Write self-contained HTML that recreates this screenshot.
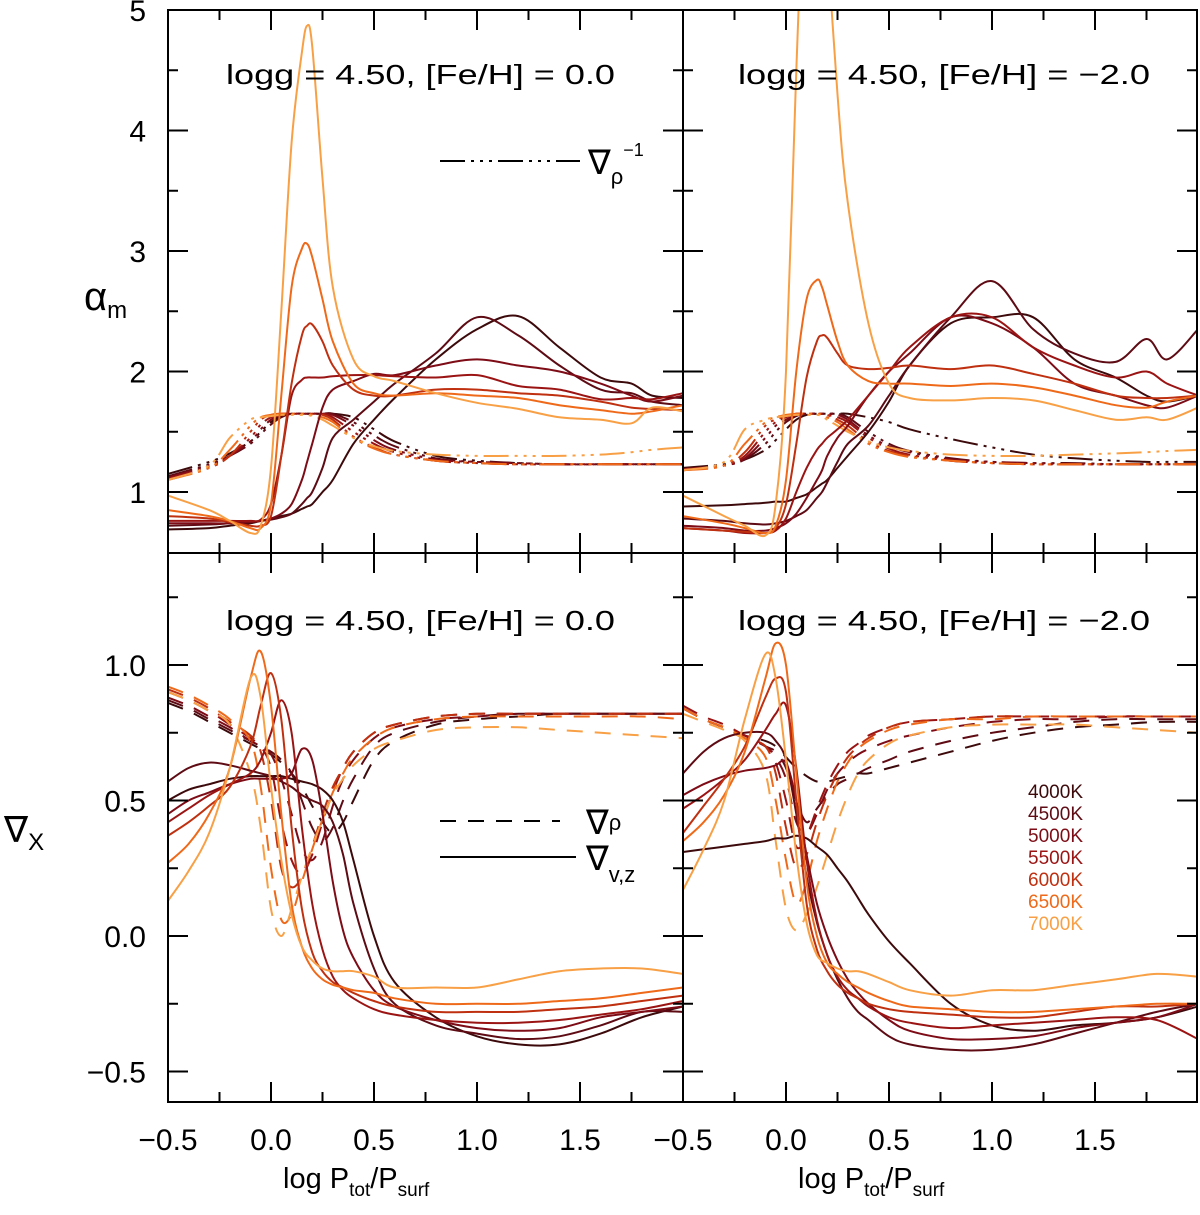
<!DOCTYPE html>
<html><head><meta charset="utf-8">
<style>
html,body{margin:0;padding:0;background:#fff;}
svg{display:block;font-family:"Liberation Sans","DejaVu Sans",sans-serif;}
</style></head>
<body>
<svg id="chart" width="1200" height="1215" viewBox="0 0 1200 1215" xmlns="http://www.w3.org/2000/svg">
<defs>
<clipPath id="cTL"><rect x="168" y="10" width="515" height="543"/></clipPath>
<clipPath id="cTR"><rect x="683" y="10" width="514" height="543"/></clipPath>
<clipPath id="cBL"><rect x="168" y="553" width="515" height="549"/></clipPath>
<clipPath id="cBR"><rect x="683" y="553" width="514" height="549"/></clipPath>
</defs>
<g id="curves"></g>
<g id="axes"></g>
<g id="labels" fill="#000">
<text x="226" y="84" font-size="28" textLength="389" lengthAdjust="spacingAndGlyphs">logg = 4.50, [Fe/H] = 0.0</text>
<text x="738" y="84" font-size="28" textLength="412" lengthAdjust="spacingAndGlyphs">logg = 4.50, [Fe/H] = −2.0</text>
<text x="226" y="630" font-size="28" textLength="389" lengthAdjust="spacingAndGlyphs">logg = 4.50, [Fe/H] = 0.0</text>
<text x="738" y="630" font-size="28" textLength="412" lengthAdjust="spacingAndGlyphs">logg = 4.50, [Fe/H] = −2.0</text>
<text x="84" y="310" font-size="40">α<tspan font-size="24" dy="8">m</tspan></text>
<text x="4" y="842" font-size="36">∇<tspan font-size="24" dy="8">X</tspan></text>
<text x="283" y="1188" font-size="29">log P<tspan font-size="19" dy="8">tot</tspan><tspan dy="-8">/P</tspan><tspan font-size="19" dy="8">surf</tspan></text>
<text x="798" y="1188" font-size="29">log P<tspan font-size="19" dy="8">tot</tspan><tspan dy="-8">/P</tspan><tspan font-size="19" dy="8">surf</tspan></text>
<g>
<line x1="440" y1="161" x2="580" y2="161" stroke="#000" stroke-width="2" stroke-dasharray="25 6 3 6 3 6 3 6"/>
<text x="588" y="174" font-size="34">∇<tspan font-size="22" dy="10">ρ</tspan><tspan font-size="18" dy="-28">−1</tspan></text>
</g>
<g>
<line x1="440" y1="821" x2="560" y2="821" stroke="#000" stroke-width="2" stroke-dasharray="16 12"/>
<text x="586" y="834" font-size="34">∇<tspan font-size="22" dy="-4">ρ</tspan></text>
<line x1="440" y1="857" x2="576" y2="857" stroke="#000" stroke-width="2"/>
<text x="586" y="870" font-size="34">∇<tspan font-size="22" dy="12">v,z</tspan></text>
</g>
<g id="legend-temps" font-size="19" text-anchor="end"></g>
</g>
<rect x="168" y="10" width="1029" height="1092" fill="none" stroke="#000" stroke-width="2"/>
<line x1="683" y1="10" x2="683" y2="1102" stroke="#000" stroke-width="2"/>
<line x1="168" y1="553" x2="1197" y2="553" stroke="#000" stroke-width="2"/>
</svg>
<script>
const temps = ["4000K","4500K","5000K","5500K","6000K","6500K","7000K"];
const colors = ["#3d0a0c","#5e0b14","#7d0c16","#9b1414","#bf3010","#ee6a1a","#f8a046"];

const xTop = [-0.5,-0.3,-0.2,-0.1,-0.05,0,0.05,0.1,0.15,0.175,0.2,0.25,0.3,0.4,0.5,0.6,0.8,1.0,1.2,1.4,1.6,1.75,1.85,2.0];
const xBot = [-0.5,-0.4,-0.3,-0.2,-0.1,-0.05,0,0.05,0.1,0.15,0.2,0.25,0.3,0.35,0.4,0.5,0.6,0.8,1.0,1.2,1.4,1.6,1.8,2.0];

const alphaL = [
 [0.69,0.70,0.72,0.74,0.76,0.78,0.80,0.82,0.86,0.88,0.90,1.0,1.1,1.4,1.6,1.78,2.1,2.35,2.46,2.2,1.95,1.9,1.8,1.78],
 [0.72,0.73,0.74,0.75,0.76,0.77,0.79,0.82,0.9,0.95,1.0,1.2,1.45,1.6,1.75,1.9,2.15,2.45,2.3,2.05,1.85,1.82,1.75,1.72],
 [0.74,0.74,0.74,0.75,0.76,0.78,0.82,0.9,1.1,1.25,1.4,1.7,1.85,1.92,1.98,1.97,2.05,2.1,2.05,2.0,1.9,1.8,1.75,1.8],
 [0.76,0.76,0.76,0.76,0.77,0.9,1.3,1.8,1.93,1.95,1.95,1.95,1.96,1.97,1.97,1.96,1.95,1.97,1.88,1.85,1.77,1.78,1.77,1.82],
 [0.80,0.78,0.75,0.72,0.72,0.8,1.3,1.9,2.3,2.38,2.39,2.25,2.05,1.85,1.8,1.8,1.85,1.85,1.82,1.8,1.75,1.7,1.69,1.68],
 [0.85,0.80,0.76,0.70,0.70,0.9,1.8,2.7,3.02,3.06,2.95,2.6,2.25,1.9,1.82,1.8,1.82,1.8,1.78,1.72,1.68,1.65,1.67,1.72],
 [0.97,0.85,0.76,0.66,0.72,1.2,2.5,3.9,4.65,4.87,4.7,3.6,2.7,2.1,1.96,1.92,1.82,1.74,1.69,1.62,1.6,1.57,1.7,1.67]
];
const alphaR = [
 [0.88,0.89,0.90,0.91,0.92,0.92,0.95,0.98,1.04,1.07,1.1,1.2,1.3,1.5,1.75,2.05,2.4,2.45,2.45,2.1,1.95,1.8,1.75,1.8],
 [0.78,0.76,0.74,0.73,0.74,0.76,0.8,0.85,0.95,1.0,1.08,1.25,1.4,1.55,1.8,2.05,2.45,2.75,2.35,2.15,2.08,2.27,2.1,2.35],
 [0.72,0.70,0.68,0.68,0.70,0.74,0.82,0.95,1.1,1.18,1.3,1.45,1.55,1.8,2.0,2.15,2.45,2.4,2.2,1.9,1.8,1.72,1.7,1.8],
 [0.70,0.68,0.66,0.66,0.68,0.78,1.0,1.2,1.35,1.4,1.45,1.52,1.6,1.8,2.0,2.2,2.45,2.45,2.2,2.05,1.95,2.0,1.9,1.8],
 [0.70,0.68,0.67,0.66,0.70,0.9,1.4,1.95,2.25,2.3,2.28,2.15,2.05,2.02,2.03,2.05,2.02,2.05,1.98,1.9,1.8,1.78,1.78,1.8],
 [0.80,0.74,0.70,0.66,0.72,1.1,2.0,2.6,2.76,2.7,2.55,2.25,2.05,1.92,1.9,1.9,1.88,1.9,1.87,1.8,1.72,1.7,1.75,1.8],
 [0.97,0.80,0.72,0.64,0.9,2.0,4.5,6.5,6.8,6.5,5.6,4.3,3.4,2.4,1.9,1.78,1.76,1.78,1.76,1.68,1.6,1.62,1.6,1.7]
];
const invRhoL = [
 [1.15,1.25,1.32,1.42,1.5,1.58,1.63,1.65,1.65,1.65,1.65,1.65,1.65,1.62,1.52,1.42,1.3,1.26,1.24,1.23,1.23,1.23,1.23,1.23],
 [1.13,1.23,1.3,1.4,1.48,1.56,1.62,1.65,1.65,1.65,1.65,1.65,1.65,1.58,1.47,1.38,1.28,1.25,1.24,1.23,1.23,1.23,1.23,1.23],
 [1.12,1.22,1.3,1.42,1.52,1.6,1.64,1.65,1.65,1.65,1.65,1.65,1.64,1.55,1.43,1.35,1.27,1.25,1.24,1.23,1.23,1.23,1.23,1.23],
 [1.11,1.21,1.3,1.45,1.56,1.62,1.65,1.65,1.65,1.65,1.65,1.65,1.62,1.5,1.4,1.33,1.26,1.24,1.23,1.23,1.23,1.23,1.23,1.23],
 [1.1,1.2,1.3,1.5,1.6,1.64,1.65,1.65,1.65,1.65,1.65,1.64,1.6,1.46,1.37,1.31,1.26,1.24,1.23,1.23,1.23,1.23,1.23,1.23],
 [1.1,1.2,1.35,1.55,1.62,1.64,1.65,1.65,1.65,1.65,1.64,1.62,1.58,1.45,1.36,1.31,1.26,1.24,1.23,1.23,1.23,1.23,1.23,1.23],
 [1.1,1.22,1.45,1.6,1.62,1.63,1.64,1.64,1.64,1.64,1.63,1.6,1.55,1.45,1.38,1.34,1.31,1.3,1.3,1.3,1.31,1.33,1.35,1.37]
];
const invRhoR = [
 [1.2,1.23,1.27,1.35,1.43,1.52,1.6,1.64,1.65,1.65,1.65,1.65,1.65,1.62,1.58,1.52,1.44,1.37,1.31,1.28,1.26,1.25,1.25,1.25],
 [1.19,1.22,1.27,1.4,1.5,1.58,1.63,1.65,1.65,1.65,1.65,1.65,1.62,1.5,1.4,1.34,1.28,1.25,1.24,1.24,1.23,1.23,1.23,1.23],
 [1.19,1.22,1.28,1.45,1.55,1.6,1.64,1.65,1.65,1.65,1.65,1.64,1.6,1.47,1.38,1.33,1.27,1.25,1.24,1.23,1.23,1.23,1.23,1.23],
 [1.19,1.22,1.3,1.5,1.58,1.62,1.65,1.65,1.65,1.65,1.64,1.62,1.58,1.45,1.36,1.31,1.26,1.24,1.23,1.23,1.23,1.23,1.23,1.23],
 [1.18,1.22,1.33,1.55,1.6,1.63,1.65,1.65,1.65,1.65,1.64,1.6,1.55,1.42,1.34,1.3,1.26,1.24,1.23,1.23,1.23,1.23,1.23,1.23],
 [1.18,1.22,1.4,1.58,1.62,1.64,1.65,1.65,1.65,1.64,1.62,1.58,1.52,1.4,1.33,1.29,1.26,1.24,1.23,1.23,1.23,1.23,1.23,1.23],
 [1.18,1.25,1.52,1.6,1.62,1.63,1.64,1.64,1.64,1.63,1.6,1.55,1.5,1.42,1.37,1.34,1.31,1.3,1.3,1.31,1.32,1.33,1.34,1.35]
];
const gradVzL = [
 [0.5,0.54,0.56,0.58,0.59,0.59,0.59,0.59,0.58,0.57,0.56,0.54,0.5,0.42,0.28,0.0,-0.17,-0.3,-0.37,-0.4,-0.4,-0.36,-0.3,-0.26],
 [0.57,0.62,0.64,0.63,0.61,0.6,0.59,0.57,0.55,0.52,0.5,0.48,0.42,0.3,0.12,-0.12,-0.25,-0.33,-0.36,-0.38,-0.37,-0.33,-0.28,-0.28],
 [0.45,0.5,0.53,0.56,0.58,0.58,0.58,0.58,0.6,0.69,0.65,0.45,0.2,0.02,-0.08,-0.2,-0.26,-0.31,-0.34,-0.35,-0.34,-0.3,-0.28,-0.26],
 [0.42,0.47,0.52,0.56,0.6,0.65,0.75,0.87,0.75,0.4,0.12,-0.05,-0.15,-0.2,-0.23,-0.27,-0.29,-0.31,-0.32,-0.32,-0.31,-0.29,-0.27,-0.24],
 [0.37,0.42,0.48,0.55,0.7,0.85,0.97,0.8,0.4,0.1,-0.06,-0.13,-0.17,-0.19,-0.21,-0.24,-0.26,-0.28,-0.28,-0.28,-0.27,-0.26,-0.24,-0.22],
 [0.27,0.34,0.45,0.62,0.95,1.05,0.85,0.45,0.12,-0.04,-0.12,-0.16,-0.18,-0.19,-0.2,-0.21,-0.23,-0.25,-0.25,-0.25,-0.24,-0.23,-0.21,-0.19],
 [0.13,0.24,0.38,0.62,0.95,0.88,0.55,0.28,0.08,-0.04,-0.09,-0.12,-0.13,-0.13,-0.13,-0.15,-0.19,-0.19,-0.19,-0.16,-0.13,-0.12,-0.12,-0.14]
];
const gradVzR = [
 [0.31,0.32,0.33,0.34,0.35,0.36,0.36,0.37,0.36,0.33,0.3,0.25,0.2,0.14,0.08,-0.02,-0.1,-0.25,-0.33,-0.35,-0.33,-0.32,-0.3,-0.26],
 [0.6,0.68,0.73,0.75,0.75,0.72,0.65,0.45,0.22,0.05,-0.07,-0.16,-0.23,-0.28,-0.31,-0.37,-0.4,-0.42,-0.42,-0.4,-0.36,-0.32,-0.28,-0.25],
 [0.52,0.56,0.59,0.61,0.62,0.63,0.64,0.5,0.3,0.12,0.0,-0.09,-0.16,-0.21,-0.25,-0.31,-0.35,-0.38,-0.38,-0.37,-0.34,-0.32,-0.3,-0.25],
 [0.47,0.52,0.58,0.65,0.76,0.82,0.85,0.62,0.28,0.06,-0.07,-0.15,-0.2,-0.23,-0.26,-0.3,-0.32,-0.34,-0.33,-0.32,-0.31,-0.3,-0.31,-0.38],
 [0.38,0.48,0.58,0.7,0.88,0.95,0.9,0.5,0.12,-0.05,-0.13,-0.18,-0.21,-0.23,-0.25,-0.27,-0.28,-0.29,-0.3,-0.3,-0.28,-0.26,-0.26,-0.25],
 [0.35,0.42,0.52,0.68,0.95,1.08,1.0,0.6,0.2,0.0,-0.1,-0.14,-0.17,-0.19,-0.21,-0.24,-0.26,-0.27,-0.28,-0.28,-0.27,-0.26,-0.25,-0.25],
 [0.17,0.32,0.5,0.8,1.04,0.95,0.65,0.3,0.05,-0.07,-0.1,-0.12,-0.13,-0.13,-0.14,-0.17,-0.2,-0.22,-0.2,-0.2,-0.18,-0.16,-0.14,-0.15]
];
const gradRhoL = [
 [0.86,0.83,0.79,0.75,0.71,0.69,0.67,0.64,0.6,0.55,0.48,0.42,0.38,0.42,0.5,0.65,0.72,0.78,0.8,0.81,0.82,0.82,0.82,0.82],
 [0.87,0.84,0.8,0.76,0.72,0.7,0.68,0.65,0.6,0.5,0.4,0.35,0.4,0.5,0.58,0.7,0.75,0.79,0.81,0.82,0.82,0.82,0.82,0.82],
 [0.88,0.85,0.81,0.77,0.72,0.7,0.67,0.58,0.45,0.32,0.28,0.35,0.48,0.58,0.65,0.73,0.77,0.8,0.81,0.82,0.82,0.82,0.82,0.82],
 [0.9,0.87,0.83,0.78,0.73,0.7,0.62,0.42,0.28,0.23,0.3,0.42,0.53,0.62,0.68,0.75,0.78,0.81,0.82,0.82,0.82,0.82,0.82,0.82],
 [0.91,0.88,0.84,0.79,0.74,0.68,0.5,0.25,0.18,0.22,0.33,0.45,0.55,0.62,0.68,0.75,0.78,0.81,0.82,0.82,0.82,0.82,0.82,0.82],
 [0.92,0.89,0.85,0.8,0.72,0.55,0.25,0.06,0.08,0.2,0.32,0.43,0.53,0.6,0.66,0.73,0.77,0.8,0.81,0.81,0.81,0.81,0.81,0.8],
 [0.9,0.87,0.83,0.78,0.6,0.4,0.1,0.0,0.1,0.22,0.33,0.43,0.52,0.58,0.63,0.69,0.72,0.76,0.77,0.77,0.76,0.75,0.74,0.73]
];
const gradRhoR = [
 [0.84,0.8,0.77,0.74,0.72,0.7,0.66,0.62,0.59,0.57,0.57,0.58,0.59,0.6,0.6,0.62,0.64,0.68,0.72,0.75,0.77,0.78,0.79,0.79],
 [0.84,0.8,0.77,0.74,0.7,0.68,0.62,0.5,0.42,0.47,0.52,0.56,0.58,0.6,0.62,0.65,0.68,0.72,0.75,0.77,0.79,0.8,0.8,0.8],
 [0.84,0.8,0.77,0.74,0.7,0.66,0.58,0.42,0.38,0.45,0.54,0.6,0.64,0.67,0.69,0.72,0.74,0.77,0.79,0.8,0.8,0.81,0.81,0.81],
 [0.85,0.81,0.78,0.74,0.7,0.64,0.5,0.33,0.37,0.47,0.56,0.63,0.68,0.71,0.74,0.77,0.79,0.8,0.81,0.81,0.81,0.81,0.81,0.81],
 [0.84,0.8,0.77,0.73,0.7,0.6,0.4,0.25,0.3,0.42,0.52,0.6,0.66,0.7,0.73,0.77,0.79,0.8,0.81,0.81,0.81,0.81,0.81,0.81],
 [0.84,0.8,0.77,0.73,0.66,0.5,0.28,0.12,0.2,0.35,0.47,0.57,0.64,0.69,0.72,0.76,0.78,0.8,0.8,0.81,0.81,0.81,0.81,0.81],
 [0.82,0.79,0.76,0.72,0.6,0.35,0.1,0.02,0.08,0.18,0.3,0.42,0.52,0.6,0.65,0.71,0.74,0.77,0.78,0.78,0.78,0.77,0.76,0.75]
];
const xTickLabelsL = ["−0.5","0.0","0.5","1.0","1.5"];
const xTickLabelsR = ["−0.5","0.0","0.5","1.0","1.5"];
const xTickValues = [-0.5,0,0.5,1.0,1.5];
const yTickTop = [1,2,3,4,5];
const yTickTopLabels = ["1","2","3","4","5"];
const yTickBot = [-0.5,0,0.5,1.0];
const yTickBotLabels = ["−0.5","0.0","0.5","1.0"];

const NS = "http://www.w3.org/2000/svg";
function xL(v){return 168 + 206*(v+0.5);}
function xR(v){return 683 + 206*(v+0.5);}
function yT(v){return 492 - 120.5*(v-1);}
function yB(v){return 936 - 271*v;}

function smoothPath(pts){
  let d = "M" + pts[0][0].toFixed(1) + "," + pts[0][1].toFixed(1);
  for(let i=0;i<pts.length-1;i++){
    const p0 = pts[Math.max(0,i-1)], p1 = pts[i], p2 = pts[i+1], p3 = pts[Math.min(pts.length-1,i+2)];
    const c1x = p1[0]+(p2[0]-p0[0])/6, c1y = p1[1]+(p2[1]-p0[1])/6;
    const c2x = p2[0]-(p3[0]-p1[0])/6, c2y = p2[1]-(p3[1]-p1[1])/6;
    d += "C"+c1x.toFixed(1)+","+c1y.toFixed(1)+" "+c2x.toFixed(1)+","+c2y.toFixed(1)+" "+p2[0].toFixed(1)+","+p2[1].toFixed(1);
  }
  return d;
}

const curves = document.getElementById("curves");
function drawSet(series, xs, fx, fy, clip, dash, name){
  const g = document.createElementNS(NS,"g");
  g.setAttribute("clip-path","url(#"+clip+")");
  
  
  series.forEach((vals, k)=>{
    const pts = xs.map((x,i)=>[fx(x), fy(vals[i])]);
    const p = document.createElementNS(NS,"path");
    p.setAttribute("d", smoothPath(pts));
    p.setAttribute("fill","none");
    p.setAttribute("stroke", colors[k]);
    p.setAttribute("stroke-width","2");
    if(dash) p.setAttribute("stroke-dasharray", dash);
    
    
    g.appendChild(p);
  });
  curves.appendChild(g);
}
const DD = "25 6 3 6 3 6 3 6";
const DS = "16 12";
drawSet(invRhoL, xTop, xL, yT, "cTL", DD, "inv-grad-rho-feh0");
drawSet(alphaL, xTop, xL, yT, "cTL", null, "alpha-m-feh0");
drawSet(invRhoR, xTop, xR, yT, "cTR", DD, "inv-grad-rho-feh-2");
drawSet(alphaR, xTop, xR, yT, "cTR", null, "alpha-m-feh-2");
drawSet(gradRhoL, xBot, xL, yB, "cBL", DS, "grad-rho-feh0");
drawSet(gradVzL, xBot, xL, yB, "cBL", null, "grad-vz-feh0");
drawSet(gradRhoR, xBot, xR, yB, "cBR", DS, "grad-rho-feh-2");
drawSet(gradVzR, xBot, xR, yB, "cBR", null, "grad-vz-feh-2");

const axes = document.getElementById("axes");
let tk = "";
function ln(x1,y1,x2,y2){tk += "M"+x1.toFixed(1)+","+y1.toFixed(1)+"L"+x2.toFixed(1)+","+y2.toFixed(1);}
[xL,xR].forEach(fx=>{
  for(let v=-0.25; v<2.0; v+=0.25){
    const len = (Math.abs(v*2 - Math.round(v*2))<1e-6) ? 20 : 10;
    const x = fx(v);
    [10,553,1102].forEach(yy=>{
      if(yy!==1102) ln(x,yy,x,yy+len);
      if(yy!==10) ln(x,yy,x,yy-len);
    });
  }
});
[[168,1],[683,-1],[683,1],[1197,-1]].forEach(([x0,dir])=>{
  for(let v=1.0; v<=4.5+1e-6; v+=0.5){
    const len = (Math.abs(v-Math.round(v))<1e-6)?20:10;
    ln(x0,yT(v),x0+dir*len,yT(v));
  }
  for(let v=-0.5; v<=1.25+1e-6; v+=0.25){
    const len = (Math.abs(v*2-Math.round(v*2))<1e-6)?20:10;
    ln(x0,yB(v),x0+dir*len,yB(v));
  }
});
const tp = document.createElementNS(NS,"path");
tp.setAttribute("d", tk);
tp.setAttribute("stroke","#000");
tp.setAttribute("stroke-width","2");


axes.appendChild(tp);

function addText(x,y,s,anchor,size,name){
  const t = document.createElementNS(NS,"text");
  t.setAttribute("x",x); t.setAttribute("y",y);
  t.setAttribute("text-anchor",anchor);
  t.setAttribute("font-size",size);
  t.textContent = s;
  
  
  axes.appendChild(t);
  return t;
}
xTickValues.forEach((v,i)=>{
  addText(xL(v),1150,xTickLabelsL[i],"middle",30,"x-tick-label-left");
  addText(xR(v),1150,xTickLabelsR[i],"middle",30,"x-tick-label-right");
});
yTickTop.forEach((v,i)=>{ addText(146,yT(v)+11,yTickTopLabels[i],"end",30,"y-tick-label-top"); });
yTickBot.forEach((v,i)=>{ addText(146,yB(v)+11,yTickBotLabels[i],"end",30,"y-tick-label-bottom"); });

const lg = document.getElementById("legend-temps");
temps.forEach((t,i)=>{
  const e = document.createElementNS(NS,"text");
  e.setAttribute("x",1083);
  e.setAttribute("y",798+22*i);
  e.setAttribute("fill",colors[i]);
  e.textContent = t;
  
  
  lg.appendChild(e);
});
</script>
</body></html>
